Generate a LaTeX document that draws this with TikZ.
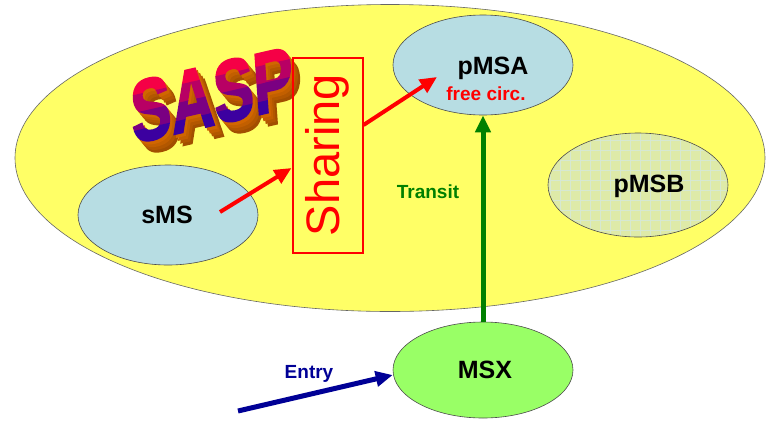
\documentclass[tikz,border=0pt]{standalone}
\usepackage{fontspec}
\setmainfont{Liberation Sans}
\newfontfamily\saspfont{Liberation Sans}[BoldFeatures={FakeBold=2.5}]
\usetikzlibrary{shapes,arrows.meta,positioning,calc}
\definecolor{sasppink}{RGB}{245,0,70}
\definecolor{saspblue}{RGB}{40,0,170}
\definecolor{saspside}{RGB}{225,110,0}
\definecolor{domyellow}{RGB}{255,255,102}
\definecolor{msblue}{RGB}{183,221,227}
\definecolor{msbgreen}{RGB}{222,234,168}
\definecolor{gridblue}{RGB}{214,232,210}
\definecolor{msxgreen}{RGB}{153,255,102}
\definecolor{transitgreen}{RGB}{0,128,0}
\definecolor{entryblue}{RGB}{0,0,150}

\begin{document}
\begin{tikzpicture}
[x=1pt,y=-1pt,
 msnode/.style={ellipse,draw=black!70,line width=0.6pt,inner sep=0pt,minimum width=180pt,minimum height=100pt},
 lbl/.style={font=\bfseries\fontsize{25}{27}\selectfont,inner sep=0pt},
 smalltxt/.style={font=\bfseries\fontsize{19}{21}\selectfont,inner sep=0pt},
 flow/.style={line width=4pt,-{Triangle[length=17pt,width=15pt]}},
 sasp/.style={font=\saspfont\bfseries\fontsize{86}{90}\selectfont,xscale=0.71,xslant=0.22,inner sep=0pt}]
\useasboundingbox (0,0) rectangle (771,421);
%% domain
\node[ellipse,draw=black!60,line width=0.6pt,fill=domyellow,minimum width=750pt,minimum height=307pt] (dom) at (390,158) {};
%% SASP word art
\begin{scope}[shift={(212,95)},rotate=13,transform shape]
  \foreach \d in {4,3,2,1}{
    \pgfmathtruncatemacro{\q}{100-\d*7}
    \node[sasp,text=saspside!\q!black] at (1.6*\d,3.2*\d) {SASP};}
  \foreach \k in {0,...,3}{
    \pgfmathtruncatemacro{\p}{\k*30}
    \begin{scope}
      \clip (-200,-35+17.5*\k) rectangle (200,-35+17.5*\k+18);
      \node[sasp,text=saspblue!\p!sasppink] at (0,0) {SASP};
    \end{scope}}
\end{scope}
%% ellipses
\node[msnode,fill=msblue] (pMSA) at (483,65) {};
\node[msnode,fill=msbgreen,minimum height=104pt] (pMSB) at (638,185) {};
\begin{scope}
  \clip (pMSB.center) ellipse [x radius=89, y radius=51];
  \draw[gridblue,line width=0.4pt,step=10pt] (545,130) grid (730,240);
\end{scope}
\node[msnode,fill=msblue] (sMS) at (168,215) {};
\node[msnode,fill=msxgreen,minimum height=96pt] (MSX) at (483,370) {};
%% sharing box
\node[draw=red,line width=2pt,rotate=90,minimum width=195pt,minimum height=70pt,
      text=red,font=\fontsize{47}{49}\selectfont,inner sep=0pt] (sharing) at (327.5,155) {Sharing};
%% labels
\node[lbl] (pMSAtxt) at (493,68) {pMSA};
\node[smalltxt,text=red] (free) at (486,94) {free circ.};
\node[lbl] (pMSBtxt) at (649,186) {pMSB};
\node[lbl] (sMStxt) at (167,215) {sMS};
\node[lbl] (MSXtxt) at (485,370) {MSX};
\node[smalltxt,text=transitgreen] (transit) at (428,192) {Transit};
\node[smalltxt,text=entryblue] (entry) at (309,374) {Entry};
%% connectors
\coordinate (sMSout) at (220,212);
\coordinate (pMSAin) at (437,77);
\coordinate (entrystart) at (238,411);
\draw[flow,red] (sMSout) -- ($(sharing.north)+(0,13)$);
\draw[flow,red] ($(sharing.south)+(0,-30)$) -- (pMSAin);
\draw[flow,transitgreen,line width=5pt] (MSX.north) -- (pMSA.south);
\draw[flow,entryblue,line width=5pt] (entrystart) -- ($(MSX.west)+(0,5)$);
\end{tikzpicture}
\end{document}
